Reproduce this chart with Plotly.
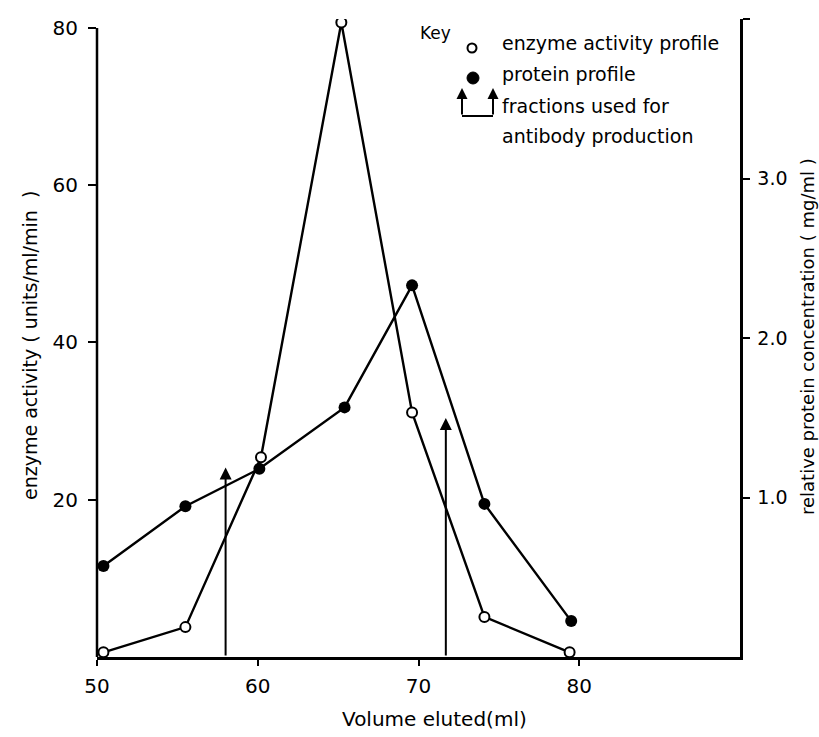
import plotly.graph_objects as go

# ---------------- data ----------------
enzyme_volume = [50.4, 55.5, 60.2, 65.2, 69.6, 74.1, 79.4]
enzyme_activity = [0.6, 3.8, 25.4, 80.7, 31.1, 5.1, 0.6]

protein_volume = [50.4, 55.5, 60.1, 65.4, 69.6, 74.1, 79.5]
protein_conc = [0.57, 0.945, 1.18, 1.565, 2.33, 0.96, 0.225]

fraction_volume = [58.0, 71.7]
fraction_arrow_top = [24.1, 30.4]

x_ticks = [50, 60, 70, 80]
left_ticks = [20, 40, 60, 80]
right_ticks = [1, 2, 3, 4]
right_tick_text = ["1.0", "2.0", "3.0", ""]

# ---------------- layout constants ----------------
W, H = 819, 737
L, R, T, B = 97, 79, 19, 80
PW, PH = W - L - R, H - T - B
FONT = "DejaVu Sans"


def px(xp):
    return (xp - L) / PW


def py(yp):
    return (H - B - yp) / PH


fig = go.Figure()

fig.add_trace(go.Scatter(
    x=enzyme_volume, y=enzyme_activity, mode="lines+markers",
    line=dict(color="black", width=2.4),
    marker=dict(symbol="circle", size=10, color="white",
                line=dict(color="black", width=2)),
    yaxis="y", showlegend=False, hoverinfo="skip"))

fig.add_trace(go.Scatter(
    x=protein_volume, y=protein_conc, mode="lines+markers",
    line=dict(color="black", width=2.4),
    marker=dict(symbol="circle", size=12, color="black"),
    yaxis="y2", showlegend=False, hoverinfo="skip"))

annotations = []
shapes = []

# fraction arrows
for xv, top in zip(fraction_volume, fraction_arrow_top):
    annotations.append(dict(
        x=xv, y=top, xref="x", yref="y", ax=xv, ay=0, axref="x", ayref="y",
        text="", showarrow=True, arrowhead=2, arrowsize=1.2, arrowwidth=2,
        arrowcolor="black"))

# left axis line (0 to 80)
shapes.append(dict(type="line", xref="paper", yref="y", x0=0, x1=0, y0=0, y1=80,
                   line=dict(color="black", width=2.5)))

# ---------------- key ----------------
annotations.append(dict(x=px(418), y=py(33), xref="paper", yref="paper",
                        text="Key", showarrow=False, xanchor="left",
                        yanchor="middle", font=dict(size=17)))
shapes.append(dict(type="circle", xref="paper", yref="paper",
                   xsizemode="pixel", ysizemode="pixel",
                   xanchor=px(472), yanchor=py(48), x0=-4.5, x1=4.5, y0=-4.5, y1=4.5,
                   line=dict(color="black", width=2), fillcolor="white"))
shapes.append(dict(type="circle", xref="paper", yref="paper",
                   xsizemode="pixel", ysizemode="pixel",
                   xanchor=px(473), yanchor=py(78), x0=-6, x1=6, y0=-6, y1=6,
                   line=dict(color="black", width=1), fillcolor="black"))
key_texts = [("enzyme activity profile", 43), ("protein profile", 74),
             ("fractions used for", 106), ("antibody production", 136)]
for txt, yy in key_texts:
    annotations.append(dict(x=px(500), y=py(yy), xref="paper", yref="paper",
                            text=txt, showarrow=False, xanchor="left",
                            yanchor="middle", font=dict(size=19)))
for xx in (462, 493):
    annotations.append(dict(x=px(xx), y=py(88), xref="paper", yref="paper",
                            ax=0, ay=28, text="", showarrow=True, arrowhead=2,
                            arrowsize=1.1, arrowwidth=2, arrowcolor="black"))
shapes.append(dict(type="line", xref="paper", yref="paper",
                   x0=px(462), x1=px(493), y0=py(116), y1=py(116),
                   line=dict(color="black", width=2)))

# ---------------- axis titles ----------------
annotations.append(dict(x=px(30), y=py(346), xref="paper", yref="paper",
                        text="enzyme activity ( units/ml/min  )", textangle=-90,
                        showarrow=False, xanchor="center", yanchor="middle",
                        font=dict(size=19)))
annotations.append(dict(x=px(807), y=py(337), xref="paper", yref="paper",
                        text="relative protein concentration ( mg/ml )", textangle=-90,
                        showarrow=False, xanchor="center", yanchor="middle",
                        font=dict(size=18)))
annotations.append(dict(x=px(434), y=py(719), xref="paper", yref="paper",
                        text="Volume eluted(ml)", showarrow=False,
                        xanchor="center", yanchor="middle", font=dict(size=20)))

fig.update_layout(
    width=W, height=H,
    margin=dict(l=L, r=R, t=T, b=B),
    paper_bgcolor="white", plot_bgcolor="white",
    font=dict(family=FONT, color="black"),
    hovermode=False,
    xaxis=dict(range=[50, 90], tickvals=x_ticks, showgrid=False, zeroline=False,
               showline=True, linecolor="black", linewidth=2.5,
               ticks="outside", ticklen=6, tickwidth=2, tickcolor="black",
               tickfont=dict(size=20), ticklabelstandoff=3),
    yaxis=dict(range=[0, 81.14], tickvals=left_ticks, showgrid=False, zeroline=False,
               showline=False, ticks="outside", ticklen=8, tickwidth=2,
               tickcolor="black", tickfont=dict(size=20), ticklabelstandoff=6),
    yaxis2=dict(range=[0, 4.0], tickvals=right_ticks, ticktext=right_tick_text,
                overlaying="y", side="right", showgrid=False, zeroline=False,
                showline=True, linecolor="black", linewidth=2.5,
                ticks="outside", ticklen=7, tickwidth=2, tickcolor="black",
                tickfont=dict(size=19), ticklabelstandoff=4),
    annotations=annotations,
    shapes=shapes,
)

fig.write_html("out.html", config={"displayModeBar": False, "staticPlot": True})

# remove the browser's default page margin so the figure sits at (0, 0)
with open("out.html", encoding="utf-8") as f:
    html = f.read()
html = html.replace("<head>", "<head><style>html,body{margin:0;padding:0;overflow:hidden;}</style>", 1)
with open("out.html", "w", encoding="utf-8") as f:
    f.write(html)
